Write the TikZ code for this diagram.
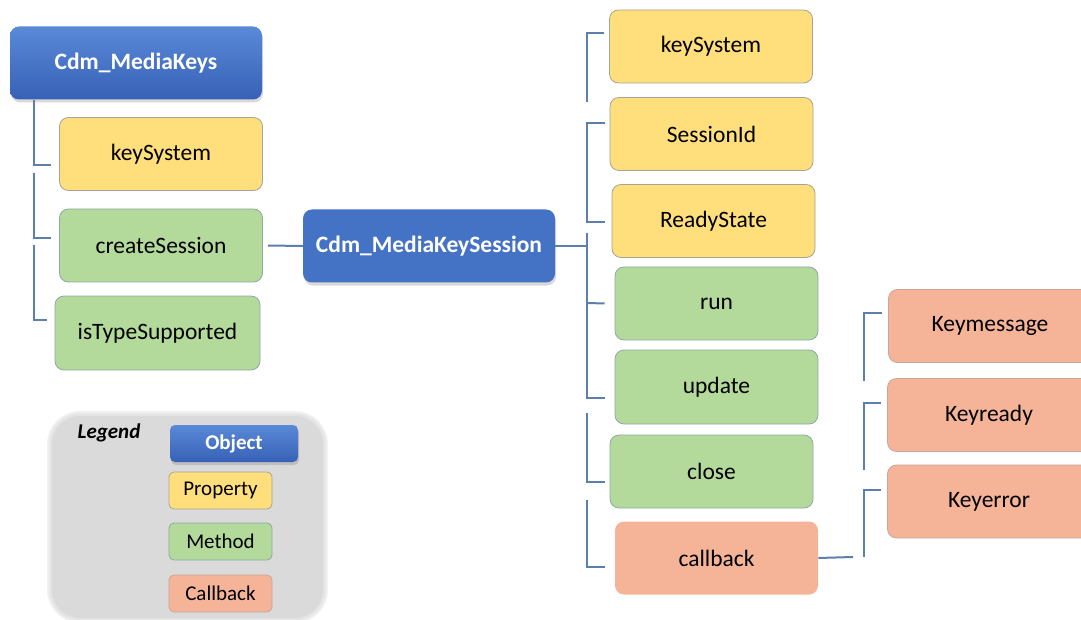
\documentclass[tikz,border=0pt]{standalone}
\usepackage{fontspec}
\setmainfont{Carlito}
\usetikzlibrary{shadows}

\definecolor{objblue}{HTML}{4472C4}
\definecolor{objtop}{HTML}{5A89D8}
\definecolor{objbot}{HTML}{3761B6}
\definecolor{propfill}{HTML}{FFDF7C}
\definecolor{propedge}{HTML}{A8A296}
\definecolor{methfill}{HTML}{B4DA9B}
\definecolor{methedge}{HTML}{8FA8A4}
\definecolor{cbfill}{HTML}{F5B497}
\definecolor{cbedge}{HTML}{C9A59A}
\definecolor{linkblue}{HTML}{5B80AE}
\definecolor{legendgray}{HTML}{DADADA}

\begin{document}
\begin{tikzpicture}[x=1pt, y=-1pt,
	box/.style={rectangle, rounded corners=9pt, inner sep=0pt, minimum width=203pt, minimum height=73pt, font=\fontsize{23.5}{28}\selectfont},
	obj/.style={box, minimum width=252pt, text=white, font=\bfseries\fontsize{23.5}{28}\selectfont, drop shadow={shadow xshift=1pt, shadow yshift=-3pt, opacity=0.3}},
	prop/.style={box, fill=propfill, draw=propedge, line width=0.8pt},
	meth/.style={box, fill=methfill, draw=methedge, line width=0.8pt},
	cb/.style={box, fill=cbfill, draw=cbedge, line width=0.8pt},
	small/.style={minimum width=103pt, minimum height=37pt, rounded corners=5pt, font=\fontsize{21}{25}\selectfont},
	link/.style={draw=linkblue, line width=2pt}]
	\useasboundingbox (0,0) rectangle (1081,620);

	% left tree
	\node[obj, top color=objtop, bottom color=objbot] (mk) at (136,63) {Cdm\_MediaKeys};
	\node[prop] (lks) at (161,154) {keySystem};
	\node[meth] (lcs) at (161,245.5) {createSession};
	\node[meth, minimum width=205pt, minimum height=74pt] (lits) at (157.5,333) {isTypeSupported};
	\foreach \a/\b/\n in {100/165/lks, 173/238/lcs, 245/320/lits}
		\draw[link] (34,\a) |- ([xshift=-8pt]\n.west |- 0,\b);

	% session object
	\node[obj, fill=objblue] (ses) at (429,246) {Cdm\_MediaKeySession};
	\draw[link] ([xshift=5pt]lcs.east) -- (ses.west);

	% session members
	\node[prop] (rks) at (711,46.5) {keySystem};
	\node[prop] (rsid) at (711.5,134) {SessionId};
	\node[prop] (rrs) at (713.5,221) {ReadyState};
	\node[meth] (run) at (716.5,303.5) {run};
	\node[meth, minimum height=74pt] (upd) at (716.5,387) {update};
	\node[meth] (cls) at (711.5,471.5) {close};
	\node[cb, draw=none] (cbk) at (716.5,558) {callback};

	\draw[link] (ses.east) -- (587,246);
	\draw[link] (587,102) |- ([xshift=-5pt]rks.west |- 0,33);
	\draw[link] ([xshift=-5pt]rsid.west |- 0,123) -| (587,222) -- ([xshift=-7pt]rrs.west |- 0,222);
	\draw[link] (587,233) |- ([xshift=-10pt]upd.west |- 0,398);
	\draw[link] (587,303) -- ([xshift=-10pt]run.west);
	\draw[link] (587,413) |- ([xshift=-5pt]cls.west |- 0,482);
	\draw[link] (587,500) |- ([xshift=-10pt]cbk.west |- 0,567);

	% callback events
	\node[cb] (kmsg) at (990,326) {Keymessage};
	\node[cb] (krdy) at (989,415) {Keyready};
	\node[cb] (kerr) at (989,501.5) {Keyerror};
	\draw[link] (cbk.east) -- (853,557);
	\foreach \a/\b/\n in {381/313/kmsg, 470/403/krdy, 557/490/kerr}
		\draw[link] (864,\a) |- ([xshift=-6pt]\n.west |- 0,\b);

	% legend, with a soft edge
	\foreach \w in {10,7,4}
		\draw[legendgray, opacity=0.35, line width=\w pt, rounded corners=28pt] (52,416) rectangle (323,618);
	\fill[legendgray, rounded corners=28pt] (52,416) rectangle (323,618);
	\node[font=\bfseries\itshape\fontsize{21}{25}\selectfont] (lgtitle) at (109,433) {Legend};
	\node[obj, small, minimum width=128pt, font=\bfseries\fontsize{21}{25}\selectfont, top color=objtop, bottom color=objbot] (lgobj) at (234,443.5) {Object};
	\node[prop, small] (lgprop) at (220.5,490.5) {Property};
	\node[meth, small] (lgmeth) at (220.5,541.5) {Method};
	\node[cb, small] (lgcb) at (220.5,593.5) {Callback};
\end{tikzpicture}
\end{document}
